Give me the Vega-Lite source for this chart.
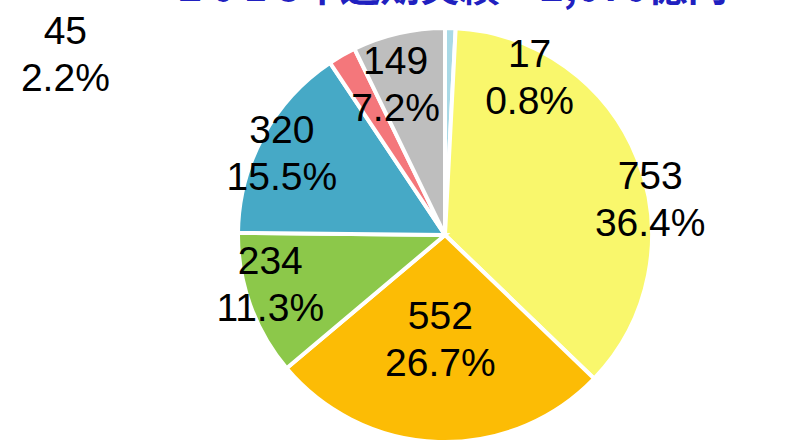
{
  "$schema": "https://vega.github.io/schema/vega-lite/v6.json",
  "width": 728,
  "height": 426,
  "autosize": "none",
  "padding": {"left": 81, "right": 0, "top": 22, "bottom": 0},
  "background": "white",
  "title": {
    "text": "2 0 1 8年通期実績　2,070億円",
    "font": "Noto Sans CJK JP",
    "fontSize": 40,
    "fontWeight": "bold",
    "color": "#2020C0",
    "anchor": "middle",
    "dx": 8,
    "dy": -4,
    "offset": 0
  },
  "data": {
    "values": [
      {"seg": "区分1", "value": 17, "pct": "0.8%", "ord": 1},
      {"seg": "区分2", "value": 753, "pct": "36.4%", "ord": 2},
      {"seg": "区分3", "value": 552, "pct": "26.7%", "ord": 3},
      {"seg": "区分4", "value": 234, "pct": "11.3%", "ord": 4},
      {"seg": "区分5", "value": 320, "pct": "15.5%", "ord": 5},
      {"seg": "区分6", "value": 45, "pct": "2.2%", "ord": 6},
      {"seg": "区分7", "value": 149, "pct": "7.2%", "ord": 7}
    ]
  },
  "transform": [
    {"window": [{"op": "sum", "field": "value", "as": "cum"}], "sort": [{"field": "ord", "order": "ascending"}], "frame": [null, 0]},
    {"calculate": "datum.cum - datum.value / 2", "as": "mid"},
    {"calculate": "datum.value + '\\n' + datum.pct", "as": "label"}
  ],
  "config": {"view": {"stroke": null}},
  "layer": [
    {
      "mark": {"type": "arc", "outerRadius": 207, "stroke": "white", "strokeWidth": 4},
      "encoding": {
        "theta": {"field": "value", "type": "quantitative", "stack": true, "scale": {"domain": [0, 2070]}},
        "order": {"field": "ord", "type": "quantitative"},
        "color": {
          "field": "seg",
          "type": "nominal",
          "legend": null,
          "scale": {
            "domain": ["区分1", "区分2", "区分3", "区分4", "区分5", "区分6", "区分7"],
            "range": ["#A9D9E6", "#F9F76C", "#FCBC05", "#8CC84A", "#46A9C6", "#F4777B", "#BEBEBE"]
          }
        }
      }
    },
    {
      "transform": [{"filter": "datum.ord == 1"}],
      "mark": {"type": "text", "radius": 140, "dx": 81, "dy": -40, "font": "Liberation Sans", "fontSize": 39, "lineHeight": 47, "lineBreak": "\n", "baseline": "middle", "align": "center", "color": "black"},
      "encoding": {"theta": {"field": "mid", "type": "quantitative", "stack": null}, "text": {"field": "label"}}
    },
    {
      "transform": [{"filter": "datum.ord == 2"}],
      "mark": {"type": "text", "radius": 140, "dx": 75, "dy": -7, "font": "Liberation Sans", "fontSize": 39, "lineHeight": 47, "lineBreak": "\n", "baseline": "middle", "align": "center", "color": "black"},
      "encoding": {"theta": {"field": "mid", "type": "quantitative", "stack": null}, "text": {"field": "label"}}
    },
    {
      "transform": [{"filter": "datum.ord == 3"}],
      "mark": {"type": "text", "radius": 140, "dx": 0, "dy": -58, "font": "Liberation Sans", "fontSize": 39, "lineHeight": 47, "lineBreak": "\n", "baseline": "middle", "align": "center", "color": "black"},
      "encoding": {"theta": {"field": "mid", "type": "quantitative", "stack": null}, "text": {"field": "label"}}
    },
    {
      "transform": [{"filter": "datum.ord == 4"}],
      "mark": {"type": "text", "radius": 140, "dx": -43, "dy": -20, "font": "Liberation Sans", "fontSize": 39, "lineHeight": 47, "lineBreak": "\n", "baseline": "middle", "align": "center", "color": "black"},
      "encoding": {"theta": {"field": "mid", "type": "quantitative", "stack": null}, "text": {"field": "label"}}
    },
    {
      "transform": [{"filter": "datum.ord == 5"}],
      "mark": {"type": "text", "radius": 140, "dx": -40, "dy": -37, "font": "Liberation Sans", "fontSize": 39, "lineHeight": 47, "lineBreak": "\n", "baseline": "middle", "align": "center", "color": "black"},
      "encoding": {"theta": {"field": "mid", "type": "quantitative", "stack": null}, "text": {"field": "label"}}
    },
    {
      "transform": [{"filter": "datum.ord == 6"}],
      "mark": {"type": "text", "radius": 140, "dx": -310, "dy": -82, "font": "Liberation Sans", "fontSize": 39, "lineHeight": 47, "lineBreak": "\n", "baseline": "middle", "align": "center", "color": "black"},
      "encoding": {"theta": {"field": "mid", "type": "quantitative", "stack": null}, "text": {"field": "label"}}
    },
    {
      "transform": [{"filter": "datum.ord == 7"}],
      "mark": {"type": "text", "radius": 140, "dx": -18, "dy": -37, "font": "Liberation Sans", "fontSize": 39, "lineHeight": 47, "lineBreak": "\n", "baseline": "middle", "align": "center", "color": "black"},
      "encoding": {"theta": {"field": "mid", "type": "quantitative", "stack": null}, "text": {"field": "label"}}
    }
  ]
}
